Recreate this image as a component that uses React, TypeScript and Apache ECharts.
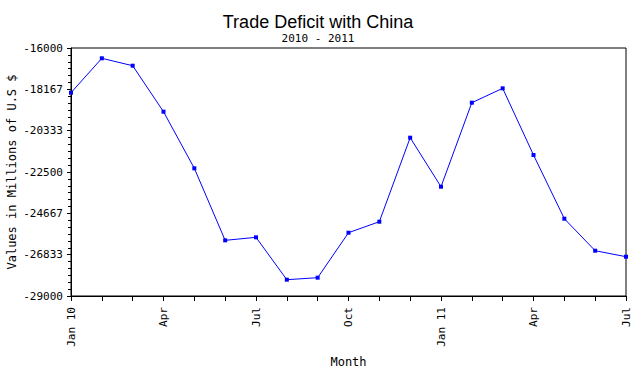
import React, { useEffect, useRef } from "react";
import * as echarts from "echarts";

const months = [
  "Jan 10", "Feb", "Mar", "Apr", "May", "Jun", "Jul", "Aug", "Sep", "Oct", "Nov", "Dec",
  "Jan 11", "Feb", "Mar", "Apr", "May", "Jun", "Jul",
];
const deficit = [
  -18343, -16540, -16928, -19339, -22307, -26082, -25925, -28145, -28040, -25682,
  -25105, -20702, -23271, -18867, -18114, -21609, -24948, -26626, -26940,
];
const yMin = -29000;
const yMax = -16000;
const ySteps = 6;

const MONO = "'DejaVu Sans Mono', monospace";

export default function App() {
  const ref = useRef<HTMLDivElement>(null);
  useEffect(() => {
    if (!ref.current) return;
    const chart = echarts.init(ref.current, null, { renderer: "svg" });
    chart.setOption({
      animation: false,
      backgroundColor: "#ffffff",
      title: [
        {
          text: "Trade Deficit with China",
          left: "center",
          top: 8,
          textStyle: { fontFamily: "'Liberation Sans', Arial, sans-serif", fontSize: 18, fontWeight: "normal", color: "#000" },
        },
        {
          text: "2010 - 2011",
          left: "center",
          top: 28,
          textStyle: { fontFamily: MONO, fontSize: 11, fontWeight: "normal", color: "#000" },
        },
      ],
      grid: {
        left: 71,
        right: 10,
        top: 48,
        bottom: 74,
        outerBoundsMode: "none",
        containLabel: false,
        show: true,
        borderColor: "#000",
        borderWidth: 1,
        backgroundColor: "transparent",
      },
      graphic: [
        {
          type: "text",
          x: 12,
          y: 172,
          rotation: Math.PI / 2,
          style: {
            text: "Values in Millions of U.S $",
            fontFamily: MONO,
            fontSize: 12,
            fill: "#000",
            align: "center",
            verticalAlign: "middle",
          },
        },
      ],
      xAxis: {
        type: "category",
        data: months,
        boundaryGap: false,
        name: "Month",
        nameLocation: "middle",
        nameGap: 60,
        nameTextStyle: { fontFamily: MONO, fontSize: 12, color: "#000" },
        axisLine: { lineStyle: { color: "#000", width: 1 } },
        axisTick: { show: true, interval: 0, length: 5, lineStyle: { color: "#000" } },
        axisLabel: {
          interval: 2,
          rotate: 90,
          margin: 11,
          fontFamily: MONO,
          fontSize: 11,
          color: "#000",
        },
        splitLine: { show: false },
      },
      yAxis: [
        {
          type: "value",
          min: yMin,
          max: yMax,
          show: false,
          splitLine: { show: false },
        },
        {
          type: "value",
          position: "left",
          min: 0,
          max: ySteps,
          interval: 1,
          axisLine: { show: true, lineStyle: { color: "#000", width: 1 } },
          axisTick: { show: true, length: 4, lineStyle: { color: "#000" } },
          minorTick: { show: true, splitNumber: 6, length: 3, lineStyle: { color: "#000" } },
          axisLabel: {
            margin: 8,
            fontFamily: MONO,
            fontSize: 11,
            color: "#000",
            formatter: (v: number) => String(Math.round(yMin + (v * (yMax - yMin)) / ySteps)),
          },
          splitLine: { show: false },
        },
      ],
      series: [
        {
          type: "line",
          yAxisIndex: 0,
          data: deficit,
          symbol: "rect",
          symbolSize: 4,
          itemStyle: { color: "#0000ff" },
          lineStyle: { color: "#0000ff", width: 1 },
        },
      ],
    });
    return () => chart.dispose();
  }, []);
  return <div ref={ref} style={{ width: 636, height: 370, position: "absolute", left: 0, top: 0 }} />;
}
